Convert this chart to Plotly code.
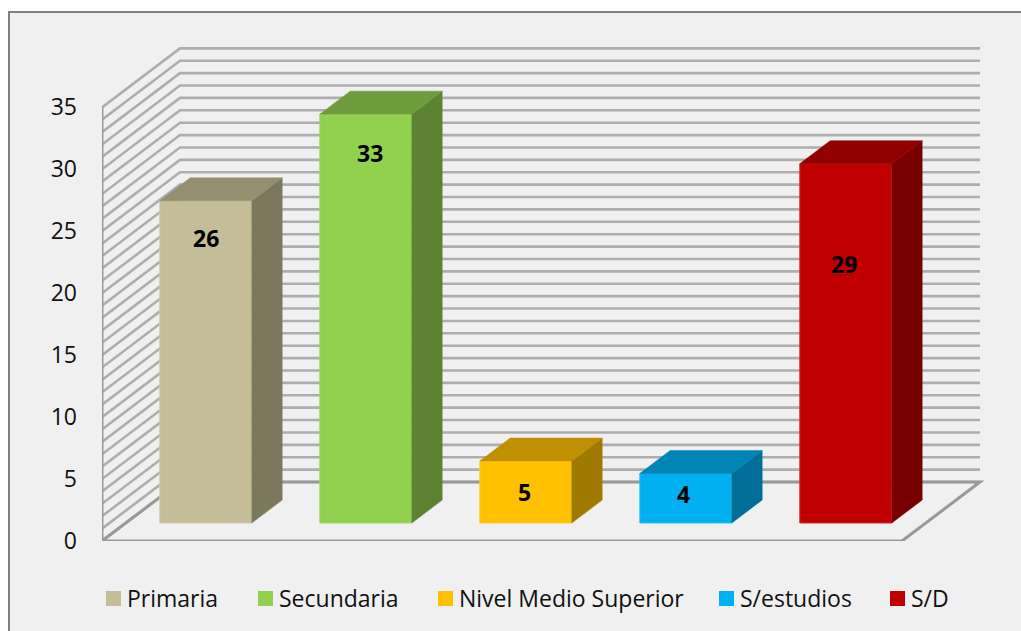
import plotly.graph_objects as go

categories = ["Primaria", "Secundaria", "Nivel Medio Superior", "S/estudios", "S/D"]
values = [26, 33, 5, 4, 29]
tick_values = [0, 5, 10, 15, 20, 25, 30, 35]
grid_values = list(range(0, 36))

front_colors = ["#C4BD97", "#92D050", "#FFC000", "#00B0F0", "#C00000"]
top_colors = ["#948F6F", "#6F9C3D", "#BF9000", "#0084B4", "#900000"]
side_colors = ["#7C785D", "#5C8332", "#A07900", "#006E96", "#780000"]
edge_colors = ["#D0CAA8", "#A0D868", "#FFCB33", "#33BFF3", "#CC3030"]

# label placement relative to each bar's top-centre, in pixels
label_drop = [37, 39, 31, 21, 100]
label_shift = [0, 4, -1, -2, -2]
legend_swatch_px = [106, 258, 438, 719, 890]
legend_text_px = [126, 278, 458, 739, 910]

W, H = 1021, 631
L, B = 102, 90
PX_X, PX_Y = 160.0, 12.39          # pixels per category / per value unit
plot_w, plot_h = W - L, H - B
DX, DY = 78 / PX_X, 59 / PX_Y      # oblique depth offset in data units
F0, F1 = 18 / 59, 41 / 59          # bar depth span inside the floor
BAR_W = 92 / PX_X
N = len(categories)
TOP = tick_values[-1]


def xp(px):
    return (px - L) / plot_w


def yp(py):
    return (H - B - py) / plot_h


def path(points):
    return "M" + " L".join(f"{x:.4f},{y:.4f}" for x, y in points)


GRID = "#AEAEAE"
AXIS = "#999999"
shapes = [dict(type="rect", xref="paper", yref="paper", x0=xp(9), x1=xp(1023), y0=yp(12), y1=yp(633),
               fillcolor="#F0F0F0", line=dict(color="#808080", width=2), layer="below")]
for v in grid_values:
    shapes.append(dict(type="path", xref="x", yref="y", layer="below",
                       path=path([(0, v), (DX, v + DY), (N + DX, v + DY)]),
                       line=dict(color=GRID, width=2.6)))
shapes.append(dict(type="path", xref="x", yref="y", layer="below",
                   path=path([(0, TOP), (0, 0), (N, 0), (N + DX, DY), (DX, DY), (0, 0)]),
                   line=dict(color=AXIS, width=3)))

fig = go.Figure()
annotations = []
for i, (cat, val) in enumerate(zip(categories, values)):
    x0 = i + 0.5 - BAR_W / 2 + F0 * DX
    x1 = x0 + BAR_W
    base = F0 * DY
    dx = (F1 - F0) * DX
    dy = (F1 - F0) * DY
    fig.add_trace(go.Bar(x=[(x0 + x1) / 2], y=[val], base=[base], width=[BAR_W], name=cat,
                         marker=dict(color=front_colors[i], line=dict(color=edge_colors[i], width=1)),
                         showlegend=False, hoverinfo="name+y"))
    fig.add_trace(go.Scatter(x=[x1, x1 + dx, x1 + dx, x1, x1],
                             y=[base, base + dy, base + val + dy, base + val, base],
                             mode="lines", fill="toself", fillcolor=side_colors[i],
                             line=dict(color=side_colors[i], width=0.5), showlegend=False, hoverinfo="skip"))
    fig.add_trace(go.Scatter(x=[x0, x1, x1 + dx, x0 + dx, x0],
                             y=[base + val, base + val, base + val + dy, base + val + dy, base + val],
                             mode="lines", fill="toself", fillcolor=top_colors[i],
                             line=dict(color=top_colors[i], width=0.5), showlegend=False, hoverinfo="skip"))
    annotations.append(dict(x=(x0 + x1) / 2, y=base + val, xref="x", yref="y", text=f"<b>{val}</b>",
                            showarrow=False, xanchor="center", yanchor="middle",
                            xshift=label_shift[i], yshift=-label_drop[i],
                            font=dict(family="Open Sans", size=23, color="#000000")))
    shapes.append(dict(type="rect", xref="paper", yref="paper",
                       x0=xp(legend_swatch_px[i]), x1=xp(legend_swatch_px[i] + 15),
                       y0=yp(606), y1=yp(591), fillcolor=front_colors[i], line=dict(width=0)))
    annotations.append(dict(x=xp(legend_text_px[i]), y=yp(598), xref="paper", yref="paper", text=cat,
                            showarrow=False, xanchor="left", yanchor="middle", xshift=-1,
                            font=dict(family="Open Sans", size=23, color="#111111")))

fig.update_layout(
    width=W, height=H, margin=dict(l=L, r=0, t=0, b=B, pad=0), autosize=False,
    paper_bgcolor="#FFFFFF", plot_bgcolor="rgba(0,0,0,0)", showlegend=False, barmode="overlay",
    shapes=shapes, annotations=annotations,
    xaxis=dict(range=[0, plot_w / PX_X], visible=False, fixedrange=True),
    yaxis=dict(range=[0, plot_h / PX_Y], tickmode="array", tickvals=tick_values, ticks="",
               showgrid=False, zeroline=False, showline=False, ticklabelstandoff=24,
               tickfont=dict(family="Open Sans", size=23, color="#111111"), fixedrange=True),
)
fig.write_html("out.html", config=dict(displayModeBar=False),
               post_script="document.body.style.margin='0';document.documentElement.style.overflow='hidden';")
